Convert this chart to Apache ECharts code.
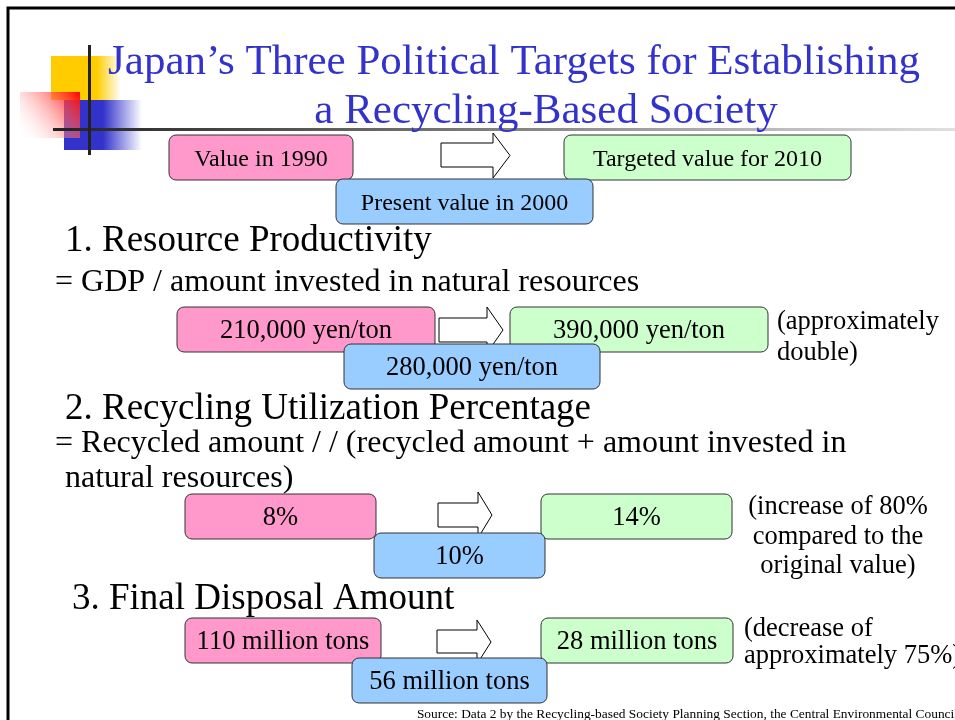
<!DOCTYPE html>
<html>
<head>
<meta charset="utf-8">
<script src="https://cdn.jsdelivr.net/npm/echarts@6/dist/echarts.min.js"></script>
<style>
html,body{margin:0;padding:0;background:#fff;}
#chart{width:955px;height:720px;}
</style>
</head>
<body>
<div id="chart"></div>
<script>
// ---- Data ----
const titleLines = ['Japan\u2019s Three Political Targets for Establishing', 'a Recycling-Based Society'];
const legendLabels = ['Value in 1990', 'Present value in 2000', 'Targeted value for 2010'];
const headings = ['1. Resource Productivity', '2. Recycling Utilization Percentage', '3. Final Disposal Amount'];
const formulas = [
  ['= GDP / amount invested in natural resources'],
  ['= Recycled amount / / (recycled amount + amount invested in', 'natural resources)'],
  []
];
const values1990 = ['210,000 yen/ton', '8%', '110 million tons'];
const values2000 = ['280,000 yen/ton', '10%', '56 million tons'];
const values2010 = ['390,000 yen/ton', '14%', '28 million tons'];
const notes = [
  ['(approximately', 'double)'],
  ['(increase of 80%', 'compared to the', 'original value)'],
  ['(decrease of', 'approximately 75%)']
];
const sourceText = 'Source: Data 2 by the Recycling-based Society Planning Section, the Central Environmental Council';

// ---- Styles / layout ----
const SERIF = '"Liberation Serif", "Times New Roman", serif';
const PINK = '#FF99CC', BLUE = '#99CCFF', GREEN = '#CCFFCC', BORDER = '#333333';
const TITLE_COLOR = '#3333CC';

function box(x, y, w, h, fill, label, size, z) {
  return [
    { type: 'rect', z: z, shape: { x: x, y: y, width: w, height: h, r: 7 },
      style: { fill: fill, stroke: BORDER, lineWidth: 1 } },
    { type: 'text', z: z + 1, style: { text: label, x: x + w / 2, y: y + h / 2 + 2,
      textAlign: 'center', textVerticalAlign: 'middle', fill: '#000', font: size + 'px ' + SERIF } }
  ];
}
function arrow(x0, xh, xt, headTop, shaftTop, shaftBot, headBot, z) {
  const mid = (headTop + headBot) / 2;
  return { type: 'polygon', z: z, shape: { points: [
      [x0, shaftTop], [xh, shaftTop], [xh, headTop], [xt, mid], [xh, headBot], [xh, shaftBot], [x0, shaftBot]] },
    style: { fill: '#fff', stroke: '#000', lineWidth: 1 } };
}
function txt(t, x, y, size, opts) {
  opts = opts || {};
  return { type: 'text', z: opts.z || 5, style: { text: t, x: x, y: y, fill: opts.fill || '#000',
    textAlign: opts.align || 'left', textVerticalAlign: 'middle', font: size + 'px ' + SERIF } };
}

const els = [];
// frame
els.push({ type: 'rect', z: 1, shape: { x: 8, y: 8, width: 1000, height: 800 },
  style: { fill: 'none', stroke: '#000', lineWidth: 3 } });

// logo
els.push({ type: 'rect', z: 2, shape: { x: 51, y: 56, width: 70, height: 44 },
  style: { fill: new echarts.graphic.LinearGradient(0, 0, 1, 0, [
    { offset: 0, color: '#FFCC00' }, { offset: 0.65, color: '#FFCC00' }, { offset: 1, color: 'rgba(255,204,0,0)' }]) } });
els.push({ type: 'rect', z: 2, shape: { x: 64, y: 100, width: 78, height: 50 },
  style: { fill: new echarts.graphic.LinearGradient(0, 0, 1, 0, [
    { offset: 0, color: '#3333CC' }, { offset: 0.5, color: '#3333CC' }, { offset: 1, color: 'rgba(51,51,204,0)' }]) } });
els.push({ type: 'rect', z: 3, shape: { x: 20, y: 92, width: 60, height: 46 },
  style: { fill: new echarts.graphic.LinearGradient(1, 0, 0, 1, [
    { offset: 0, color: '#FF0000' }, { offset: 1, color: 'rgba(255,255,255,0)' }]) } });
els.push({ type: 'rect', z: 4, shape: { x: 53, y: 128, width: 902, height: 3 },
  style: { fill: new echarts.graphic.LinearGradient(0, 0, 1, 0, [
    { offset: 0, color: '#222222' }, { offset: 1, color: '#e0e0e0' }]) } });
els.push({ type: 'rect', z: 4, shape: { x: 88, y: 45, width: 3, height: 110 }, style: { fill: '#222222' } });

// title
els.push(txt(titleLines[0], 514, 63, 43, { align: 'center', fill: TITLE_COLOR }));
els.push(txt(titleLines[1], 546, 112, 43, { align: 'center', fill: TITLE_COLOR }));

// legend
els.push(arrow(441, 493, 510, 133, 143, 167, 178, 6));
els.push(...box(169, 135, 184, 45, PINK, legendLabels[0], 24, 7));
els.push(...box(564, 135, 287, 45, GREEN, legendLabels[2], 24, 7));
els.push(...box(336, 179, 257, 45, BLUE, legendLabels[1], 24, 9));

// sections
const sec = [
  { hy: 241, hx: 65, fy: [283], fx: [55],
    p: [177, 307, 258, 45], g: [510, 307, 258, 45], b: [344, 344, 256, 45],
    a: [439, 487, 503, 307, 318, 342, 353], nx: 777, ny: [322, 353], nAlign: 'left' },
  { hy: 409, hx: 65, fy: [444, 479], fx: [55, 65],
    p: [185, 494, 191, 45], g: [541, 494, 191, 45], b: [374, 533, 171, 45],
    a: [438, 478, 492, 492, 503, 527, 538], nx: 838, ny: [507, 537, 566], nAlign: 'center' },
  { hy: 599, hx: 72, fy: [], fx: [],
    p: [185, 618, 196, 45], g: [541, 618, 192, 45], b: [352, 658, 195, 45],
    a: [437, 477, 491, 620, 630, 653, 664], nx: 744, ny: [629, 656], nAlign: 'left' }
];
sec.forEach(function (s, i) {
  els.push(txt(headings[i], s.hx, s.hy, 37));
  formulas[i].forEach(function (f, j) { els.push(txt(f, s.fx[j], s.fy[j], 32)); });
  els.push(arrow(s.a[0], s.a[1], s.a[2], s.a[3], s.a[4], s.a[5], s.a[6], 6));
  els.push(...box(s.p[0], s.p[1], s.p[2], s.p[3], PINK, values1990[i], 26.5, 7));
  els.push(...box(s.g[0], s.g[1], s.g[2], s.g[3], GREEN, values2010[i], 26.5, 7));
  els.push(...box(s.b[0], s.b[1], s.b[2], s.b[3], BLUE, values2000[i], 26.5, 9));
  notes[i].forEach(function (n, j) { els.push(txt(n, s.nx, s.ny[j], 26.5, { align: s.nAlign })); });
});

// footer
els.push(txt(sourceText, 958, 714, 13.4, { align: 'right' }));

const chart = echarts.init(document.getElementById('chart'), null, { renderer: 'canvas' });
chart.setOption({ animation: false, backgroundColor: '#fff', graphic: { elements: els } });
</script>
</body>
</html>
